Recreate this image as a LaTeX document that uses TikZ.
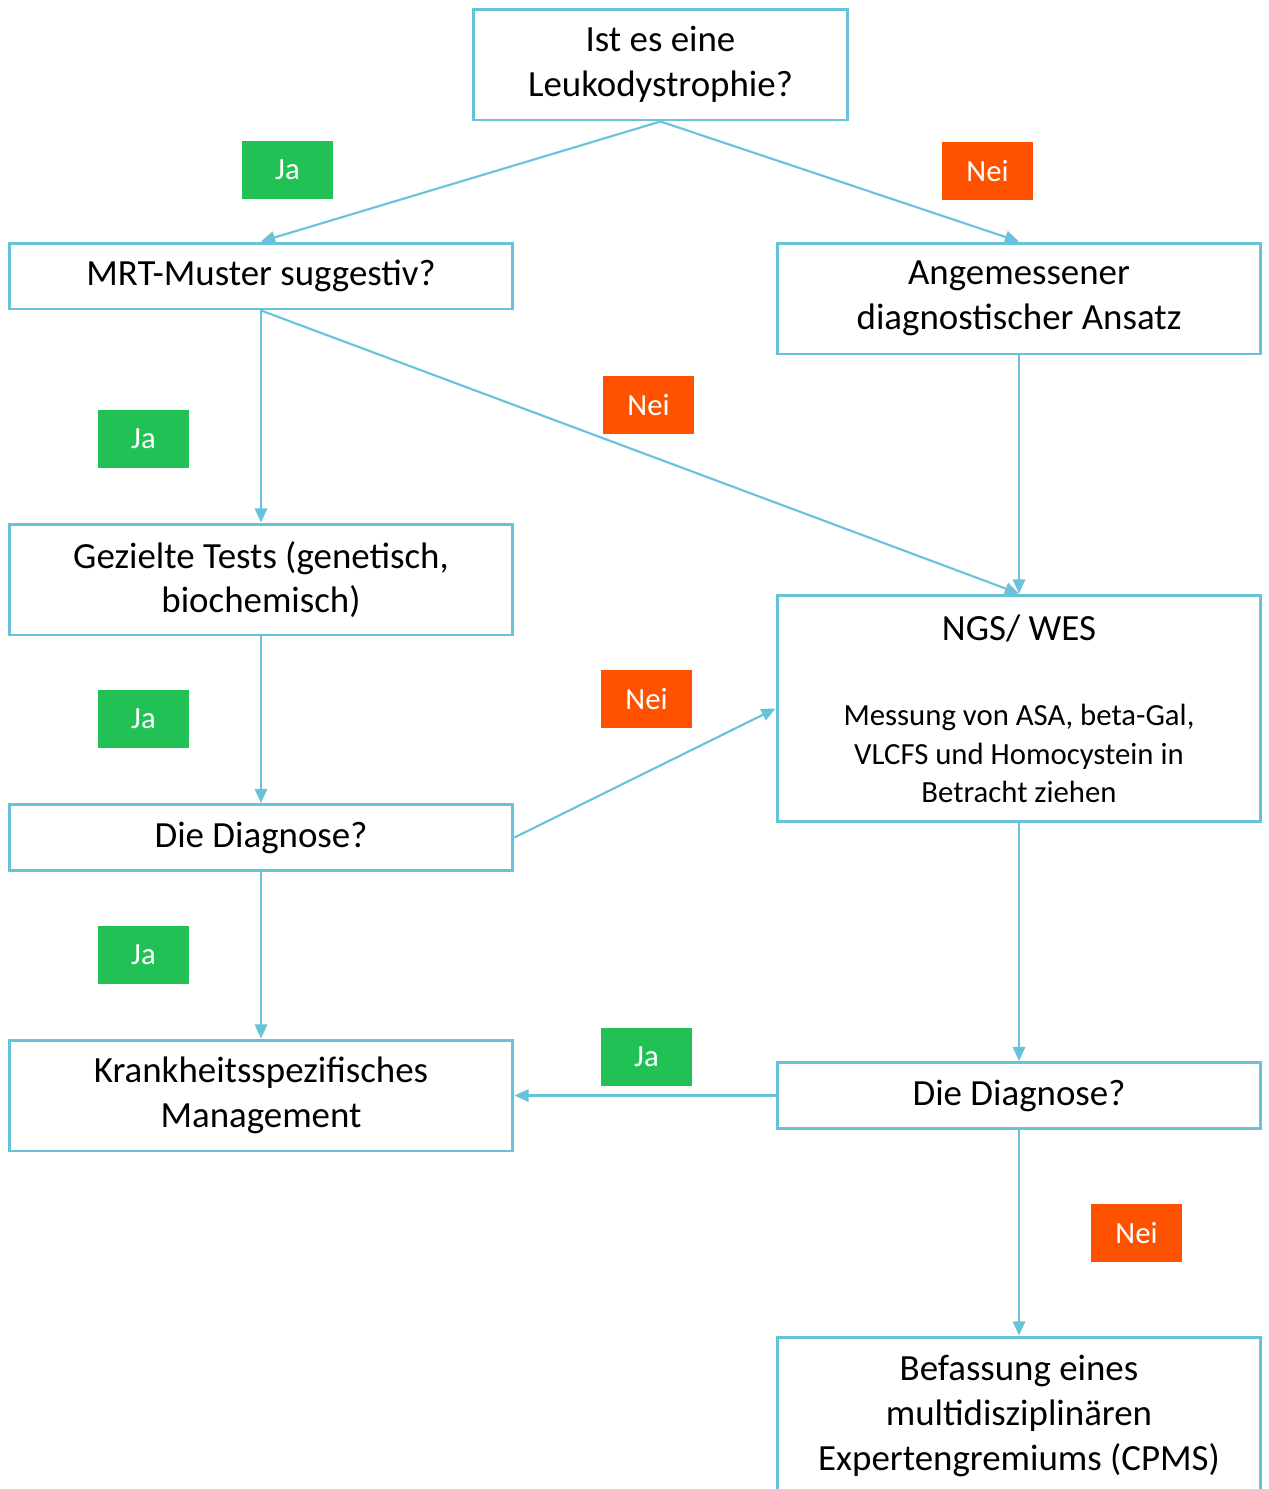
\documentclass[tikz,border=0pt]{standalone}
\usepackage{fontspec}
\setmainfont{Carlito}
\usepackage[usenames,dvipsnames]{xcolor}
\usetikzlibrary{arrows.meta}

\definecolor{linieblau}{RGB}{104,195,218}
\definecolor{jagruen}{RGB}{34,193,85}
\definecolor{neirot}{RGB}{255,82,0}

\begin{document}
\begin{tikzpicture}[x=0.02cm, y=-0.02cm]
  \tikzset{Kasten/.style   = {draw=linieblau, line width=1.7pt, fill=white,
                              align=center, inner sep=0pt,
                              font=\fontsize{21}{25.5}\selectfont},
           LinksKasten/.style  = {Kasten, minimum width=10.08cm},
           RechtsKasten/.style = {Kasten, minimum width=9.68cm},
           JaMarke/.style  = {fill=jagruen, text=white, inner sep=0pt,
                              minimum width=1.82cm, minimum height=1.16cm,
                              font=\fontsize{17.5}{21}\selectfont},
           NeiMarke/.style = {JaMarke, fill=neirot},
           EdgeStyle/.style = {draw=linieblau, line width=1.2pt,
                               -{Triangle[length=8pt,width=7pt]}}}

  \useasboundingbox (0,0) rectangle (1269,1489);

%part leuko
\node[Kasten, minimum width=7.5cm, minimum height=2.22cm] (leuko) at (660.5,64.5)
  {Ist es eine\\Leukodystrophie?};

%part links
\node[LinksKasten, minimum height=1.32cm] (mrt) at (261,276) {MRT-Muster suggestiv?};
\node[LinksKasten, minimum height=2.22cm] (tests) at (261,579.5)
  {Gezielte Tests (genetisch,\\biochemisch)};
\node[LinksKasten, minimum height=1.32cm] (diagL) at (261,837.5) {Die Diagnose?};
\node[LinksKasten, minimum height=2.22cm] (mgmt) at (261,1095.5)
  {Krankheitsspezifisches\\Management};

%part rechts
\node[RechtsKasten, minimum height=2.22cm] (ansatz) at (1019,298.5)
  {Angemessener\\diagnostischer Ansatz};
\node[RechtsKasten, minimum height=4.54cm, font=\fontsize{17.5}{21.8}\selectfont]
  (ngs) at (1019,708.5)
  {\fontsize{21}{25.5}\selectfont NGS/ WES\\[27pt]Messung von ASA, beta-Gal,\\
   VLCFS und Homocystein in\\Betracht ziehen};
\node[RechtsKasten, minimum height=1.32cm] (diagR) at (1019,1095.5) {Die Diagnose?};
\node[RechtsKasten, minimum height=3.16cm] (cpms) at (1019,1416)
  {Befassung eines\\multidisziplinären\\Expertengremiums (CPMS)};

% Ja / Nei
\node[JaMarke]  (ja1)  at (287.5,170)  {Ja};
\node[NeiMarke] (nei1) at (987.5,171)  {Nei};
\node[JaMarke]  (ja2)  at (143.5,439)  {Ja};
\node[NeiMarke] (nei2) at (648.5,405)  {Nei};
\node[JaMarke]  (ja3)  at (143.5,719)  {Ja};
\node[NeiMarke] (nei3) at (646.5,699)  {Nei};
\node[JaMarke]  (ja4)  at (143.5,955)  {Ja};
\node[JaMarke]  (ja5)  at (646.5,1057) {Ja};
\node[NeiMarke] (nei4) at (1136.5,1233) {Nei};

% Pfeile
\draw[EdgeStyle] (leuko.south) -- (mrt.north);
\draw[EdgeStyle] (leuko.south) -- (ansatz.north);
\draw[EdgeStyle] (mrt.south) -- (tests.north);
\draw[EdgeStyle] (mrt.south) -- (ngs.north);
\draw[EdgeStyle] (ansatz.south) -- (ngs.north);
\draw[EdgeStyle] (tests.south) -- (diagL.north);
\draw[EdgeStyle] (diagL.east) -- (ngs.west);
\draw[EdgeStyle] (diagL.south) -- (mgmt.north);
\draw[EdgeStyle] (ngs.south) -- (diagR.north);
\draw[EdgeStyle] (diagR.west) -- (mgmt.east);
\draw[EdgeStyle] (diagR.south) -- (cpms.north);

\end{tikzpicture}
\end{document}
